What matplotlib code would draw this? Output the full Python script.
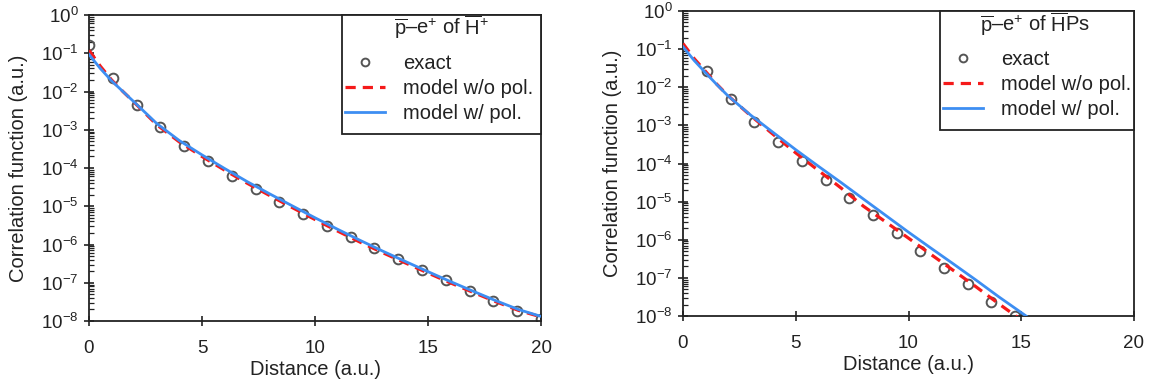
import matplotlib
matplotlib.use("Agg")
import matplotlib.pyplot as plt
from matplotlib.patches import Rectangle
import numpy as np

plt.rcParams['font.family'] = ['Liberation Sans', 'DejaVu Sans']
plt.rcParams['mathtext.fontset'] = 'custom'
plt.rcParams['mathtext.rm'] = 'Liberation Sans'
plt.rcParams['mathtext.it'] = 'Liberation Sans:italic'
plt.rcParams['mathtext.bf'] = 'Liberation Sans:bold'

# ---- data: left panel (H+) ----
exact_x_left = [0.0, 1.05, 2.11, 3.16, 4.21, 5.26, 6.32, 7.37, 8.42, 9.47,
                10.53, 11.58, 12.63, 13.68, 14.74, 15.79, 16.84, 17.89, 18.95, 20.0]
exact_y_left = [1.6e-1, 2.3e-2, 4.4e-3, 1.15e-3, 3.8e-4, 1.5e-4, 6.3e-5, 2.8e-5, 1.3e-5, 6.3e-6,
                3.1e-6, 1.55e-6, 8.0e-7, 4.2e-7, 2.2e-7, 1.15e-7, 6.2e-8, 3.3e-8, 1.8e-8, 1.15e-8]

curve_x_left = [0, 0.5, 1, 1.5, 2, 3, 4, 5, 6, 7, 8, 9, 10, 11, 12, 13, 14, 15, 16, 17, 18, 19, 20]
nopol_y_left = [1.2e-1, 4.6e-2, 2.0e-2, 1.0e-2, 5.2e-3, 1.35e-3, 4.8e-4, 2.0e-4, 8.8e-5, 4.0e-5,
                1.9e-5, 9.2e-6, 4.5e-6, 2.25e-6, 1.15e-6, 6.1e-7, 3.3e-7, 1.8e-7, 9.9e-8, 5.6e-8,
                3.2e-8, 1.9e-8, 1.28e-8]
pol_y_left = [9.3e-2, 4.0e-2, 1.9e-2, 1.0e-2, 5.3e-3, 1.45e-3, 5.2e-4, 2.2e-4, 9.7e-5, 4.4e-5,
              2.1e-5, 1.02e-5, 5.0e-6, 2.5e-6, 1.28e-6, 6.7e-7, 3.6e-7, 1.95e-7, 1.07e-7, 6.0e-8,
              3.4e-8, 2.0e-8, 1.32e-8]

# ---- data: right panel (HPs) ----
exact_x_right = [1.05, 2.11, 3.16, 4.21, 5.26, 6.32, 7.37, 8.42, 9.47,
                 10.53, 11.58, 12.63, 13.68, 14.74]
exact_y_right = [2.6e-2, 4.9e-3, 1.26e-3, 3.6e-4, 1.15e-4, 3.8e-5, 1.26e-5, 4.4e-6, 1.48e-6,
                 5.1e-7, 1.8e-7, 6.8e-8, 2.4e-8, 1.0e-8]

curve_x_right = [0, 0.5, 1, 1.5, 2, 3, 4, 5, 6, 7, 8, 9, 10, 11, 12, 13, 14, 15, 15.5]
nopol_y_right = [1.4e-1, 5.6e-2, 2.6e-2, 1.2e-2, 6.0e-3, 1.8e-3, 5.8e-4, 1.9e-4, 6.6e-5, 2.3e-5,
                 7.6e-6, 2.9e-6, 1.1e-6, 4.1e-7, 1.55e-7, 5.8e-8, 2.1e-8, 7.9e-9, 4.8e-9]
pol_y_right = [1.15e-1, 5.0e-2, 2.4e-2, 1.17e-2, 5.9e-3, 1.86e-3, 6.5e-4, 2.3e-4, 8.5e-5, 3.2e-5,
               1.17e-5, 4.3e-6, 1.58e-6, 6.0e-7, 2.3e-7, 8.7e-8, 3.2e-8, 1.23e-8, 7.6e-9]

legend_labels = ["exact", "model w/o pol.", "model w/ pol."]
titles = [r"$\overline{\mathrm{p}}$–e$^{+}$ of $\overline{\mathrm{H}}^{+}$",
          r"$\overline{\mathrm{p}}$–e$^{+}$ of $\overline{\mathrm{H}}$Ps"]
xticks = [0, 5, 10, 15, 20]

TXT = '#222222'
RED = '#f51a1a'
BLUE = '#3d8ef2'
CIRC = '#555555'

fig = plt.figure(figsize=(11.54, 3.87), dpi=100)
ax1 = fig.add_axes([89/1154, 1-321/387, 452/1154, 306/387])
ax2 = fig.add_axes([683/1154, 1-316/387, 451/1154, 305/387])

panels = [
    (ax1, exact_x_left, exact_y_left, curve_x_left, nopol_y_left, pol_y_left, titles[0],
     (0.560, 0.611), (0.779, 0.961), (0.566, 0.873)),
    (ax2, exact_x_right, exact_y_right, curve_x_right, nopol_y_right, pol_y_right, titles[1],
     (0.570, 0.610), (0.780, 0.957), (0.576, 0.872)),
]

for ax, ex, ey, cx, ny, py, ttl, box_ll, title_xy, leg_xy in panels:
    ax.plot(ex, ey, linestyle='none', marker='o', markersize=7, markerfacecolor='none',
            markeredgecolor=CIRC, markeredgewidth=1.4, label=legend_labels[0], zorder=2)
    ax.plot(cx, ny, color=RED, linestyle=(0, (3.2, 2.2)), linewidth=2.3,
            label=legend_labels[1], zorder=3)
    ax.plot(cx, py, color=BLUE, linestyle='-', linewidth=2.0,
            label=legend_labels[2], zorder=4)
    ax.set_yscale('log')
    ax.set_xlim(0, 20)
    ax.set_ylim(1e-8, 1e0)
    ax.set_xticks(xticks)
    ax.set_yticks([10.0**k for k in range(-8, 1)])
    ax.yaxis.set_minor_locator(matplotlib.ticker.LogLocator(base=10, subs=np.arange(2, 10), numticks=20))
    ax.yaxis.set_minor_formatter(matplotlib.ticker.NullFormatter())
    ax.tick_params(axis='both', which='major', direction='inout', length=7, width=1.2,
                   labelsize=13.5, colors=TXT, pad=4)
    ax.tick_params(axis='y', which='minor', direction='in', length=3.5, width=0.9, colors=TXT)
    ax.tick_params(axis='x', which='major', pad=10)
    for sp in ax.spines.values():
        sp.set_linewidth(1.3)
        sp.set_color('#222222')
    ax.set_xlabel('Distance (a.u.)', fontsize=14.5, color=TXT, labelpad=2)
    ax.set_ylabel('Correlation function (a.u.)', fontsize=14.5, color=TXT, labelpad=9)

    # legend box and title
    box = Rectangle(box_ll, 1 - box_ll[0], 1 - box_ll[1], transform=ax.transAxes,
                    facecolor='white', edgecolor='#222222', linewidth=1.3, zorder=6,
                    clip_on=False)
    ax.add_patch(box)
    ax.text(title_xy[0], title_xy[1], ttl, transform=ax.transAxes, ha='center', va='center',
            fontsize=14.5, color=TXT, zorder=7)
    leg = ax.legend(loc='upper left', bbox_to_anchor=leg_xy, borderaxespad=0, fontsize=14.5,
                    frameon=False, handlelength=2.0, handletextpad=0.9, labelspacing=0.3,
                    borderpad=0, markerscale=0.8)
    leg.set_zorder(8)
    for t in leg.get_texts():
        t.set_color(TXT)

fig.savefig('out.png', dpi=100)
